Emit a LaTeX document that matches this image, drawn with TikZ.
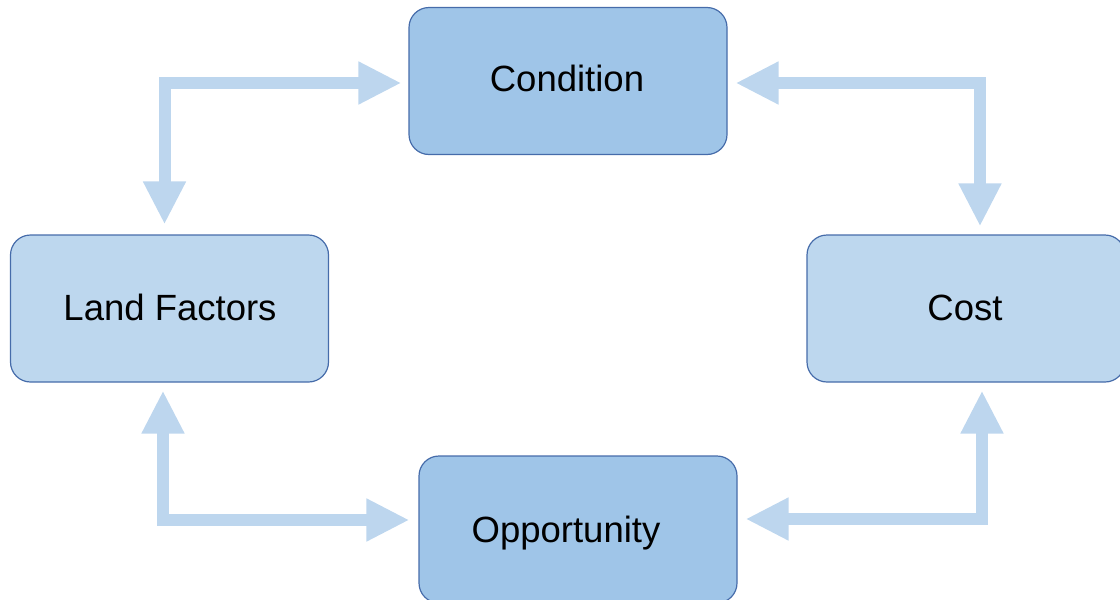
\documentclass[tikz,border=0pt]{standalone}
\usepackage{fontspec}
\setmainfont{Liberation Sans}
\usetikzlibrary{arrows.meta}
\definecolor{boxdark}{RGB}{159,197,232}
\definecolor{boxlight}{RGB}{189,215,238}
\definecolor{boxline}{RGB}{70,108,170}
\definecolor{arrowblue}{RGB}{189,214,238}
\tikzset{
  box/.style={draw=boxline, line width=1.2pt, rounded corners=20pt,
    minimum width=318pt, minimum height=147pt, inner sep=0pt},
  lbl/.style={font=\fontsize{36.5}{40}\selectfont, text height=26pt, text depth=0pt, inner sep=0pt},
  arr/.style={draw=arrowblue, line width=12pt, line join=miter,
    {Triangle[length=43pt,width=40pt]}-{Triangle[length=43pt,width=40pt]}}
}
\begin{document}
\begin{tikzpicture}[x=1pt,y=-1pt]
\useasboundingbox (0,0) rectangle (1120,600);
\clip (0,0) rectangle (1120,600);
\node[box, fill=boxdark, label={[lbl, shift={(-1,-3)}]center:Condition}] (cond) at (568,81) {};
\node[box, fill=boxlight, label={[lbl, shift={(0.5,-1.5)}]center:Land Factors}] (land) at (169.5,308.5) {};
\node[box, fill=boxlight, label={[lbl, shift={(-1,-1.5)}]center:Cost}] (cost) at (966,308.5) {};
\node[box, fill=boxdark, label={[lbl, shift={(-12,0)}]center:Opportunity}] (opp) at (578,529.5) {};
\draw[arr] ([shift={(-7,2)}]cond.west) -| ([shift={(-5,-10)}]land.north);
\draw[arr] ([shift={(8,2)}]cond.east) -| ([shift={(14,-8)}]cost.north);
\draw[arr] ([shift={(-6.5,8)}]land.south) |- ([shift={(-9,-9.5)}]opp.west);
\draw[arr] ([shift={(16,8)}]cost.south) |- ([shift={(8,-10.5)}]opp.east);
\end{tikzpicture}
\end{document}
